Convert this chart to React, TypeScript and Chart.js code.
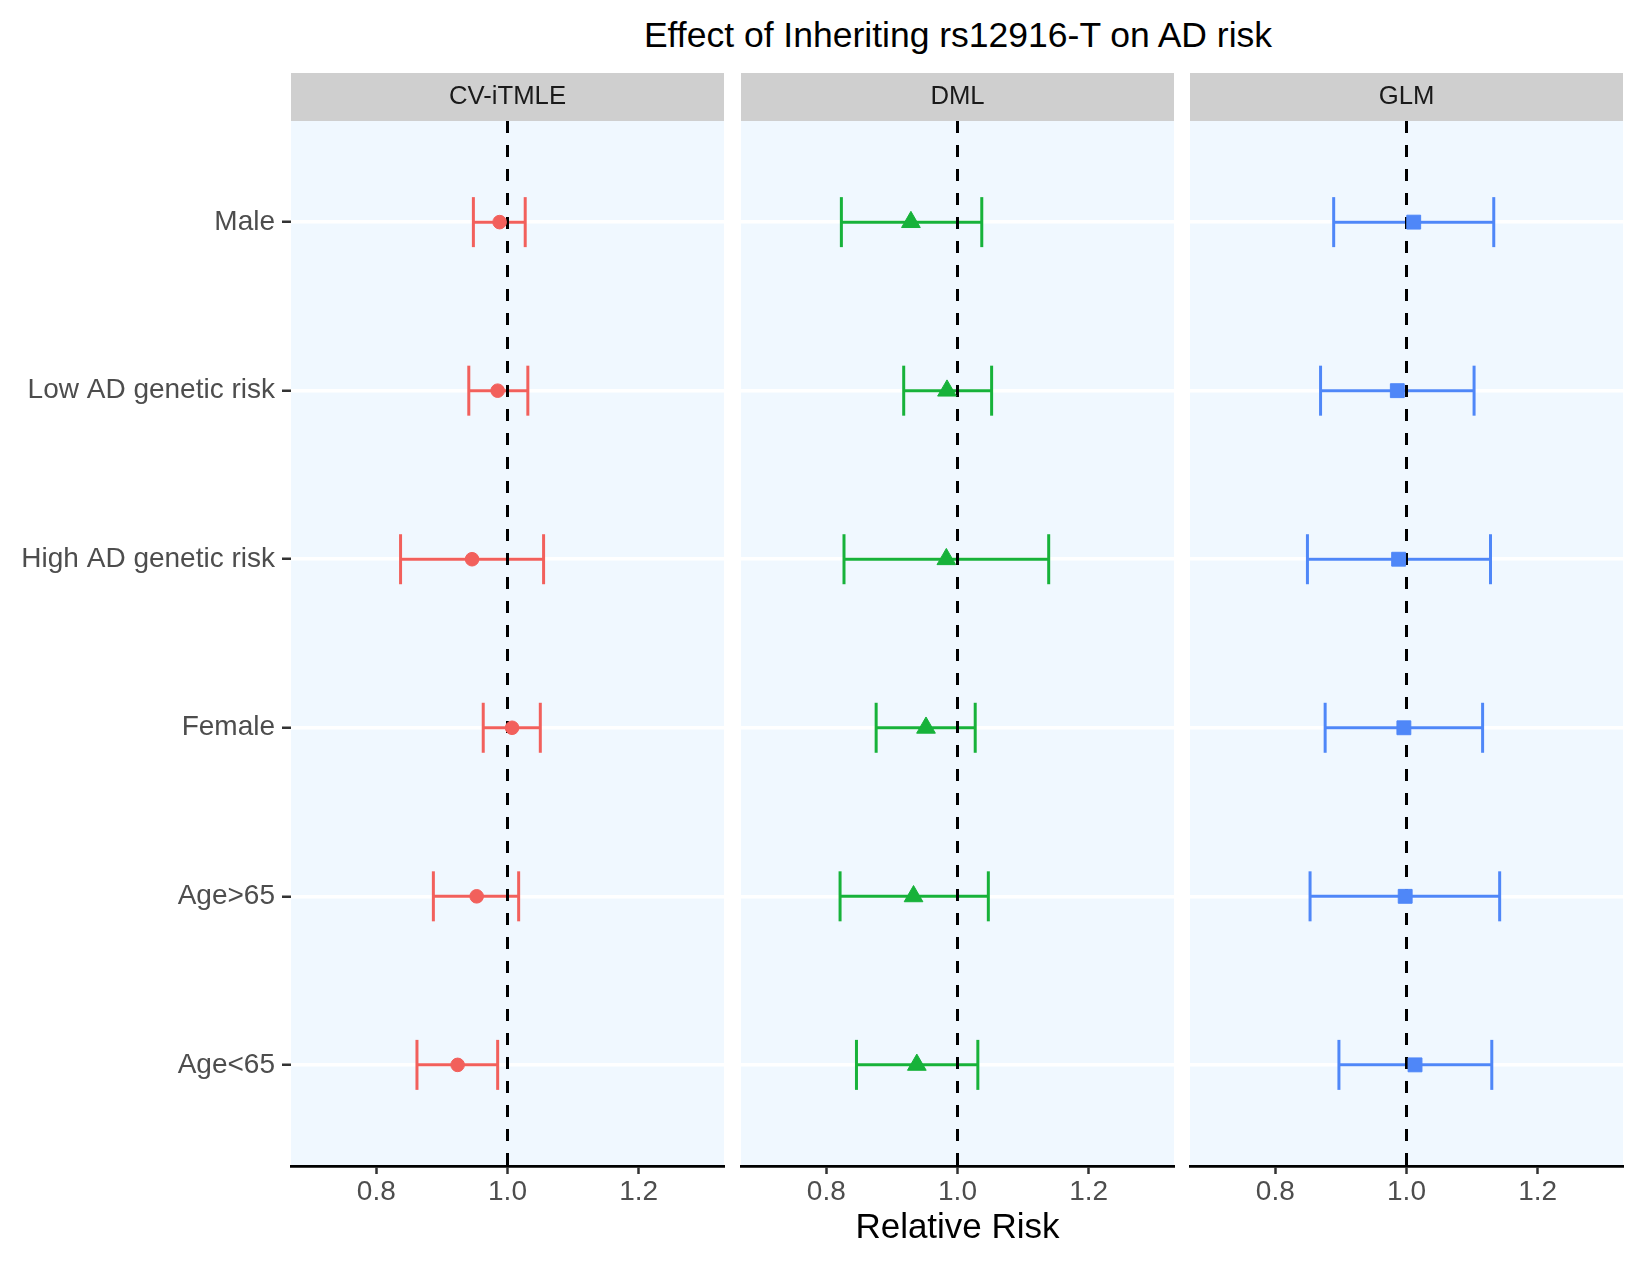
import { useEffect, useRef } from 'react'
import { Chart, registerables } from 'chart.js'

Chart.register(...registerables)

const FONT = "'Liberation Sans', Arial, Helvetica, sans-serif"
Chart.defaults.font.family = FONT

// subgroups, top to bottom
const CATEGORIES = ['Male', 'Low AD genetic risk', 'High AD genetic risk', 'Female', 'Age>65', 'Age<65']
const METHODS = ['CV-iTMLE', 'DML', 'GLM']

// relative risk estimates and 95% CI, one array per method
const CV_EST = [0.988, 0.985, 0.946, 1.007, 0.953, 0.924]
const CV_LO = [0.948, 0.941, 0.837, 0.963, 0.887, 0.862]
const CV_HI = [1.027, 1.031, 1.055, 1.050, 1.017, 0.985]

const DML_EST = [0.929, 0.984, 0.983, 0.952, 0.933, 0.938]
const DML_LO = [0.823, 0.918, 0.827, 0.876, 0.821, 0.846]
const DML_HI = [1.037, 1.052, 1.139, 1.027, 1.047, 1.031]

const GLM_EST = [1.011, 0.986, 0.988, 0.996, 0.998, 1.013]
const GLM_LO = [0.889, 0.869, 0.849, 0.876, 0.853, 0.897]
const GLM_HI = [1.133, 1.103, 1.128, 1.116, 1.142, 1.130]

const X_TICKS = [0.8, 1.0, 1.2]
const X_MIN = 0.67
const X_MAX = 1.33
const REF_VALUE = 1

const Y_MIN = -0.6
const Y_MAX = CATEGORIES.length - 1 + 0.6

// layout (page pixels)
const PAGE_W = 1648
const PAGE_H = 1265
const PANEL_TOP = 121
const STRIP_H = 48
const AXIS_H = 99
const Y_AXIS_W = 291

const PANEL_BG = '#f0f8ff'
const STRIP_BG = '#cfcfcf'
const TEXT_GREY = '#4d4d4d'
const TICK_GREY = '#333333'

type PanelCfg = {
    name: string
    est: number[]
    lo: number[]
    hi: number[]
    color: string
    shape: 'circle' | 'triangle' | 'rect'
    radius: number
    left: number
    width: number
    padLeft: number
    padRight: number
    showY: boolean
    showXTitle: boolean
}

const PANELS: PanelCfg[] = [
    { name: METHODS[0], est: CV_EST, lo: CV_LO, hi: CV_HI, color: '#f2605c', shape: 'circle', radius: 6.8,
      left: 0, width: 733, padLeft: 0, padRight: 9, showY: true, showXTitle: false },
    { name: METHODS[1], est: DML_EST, lo: DML_LO, hi: DML_HI, color: '#17b23a', shape: 'triangle', radius: 10.8,
      left: 733, width: 449, padLeft: 8, padRight: 8, showY: false, showXTitle: true },
    { name: METHODS[2], est: GLM_EST, lo: GLM_LO, hi: GLM_HI, color: '#4f87f8', shape: 'rect', radius: 9.8,
      left: 1182, width: 466, padLeft: 8, padRight: 25, showY: false, showXTitle: false },
]

// background du panneau + bandeau gris avec le nom de la méthode
const panelDecor = {
    id: 'panelDecor',
    beforeDraw(chart: any, _args: any, opts: any) {
        const { ctx, chartArea: a } = chart
        ctx.save()
        ctx.fillStyle = PANEL_BG
        ctx.fillRect(a.left, a.top, a.right - a.left, a.bottom - a.top)
        ctx.fillStyle = STRIP_BG
        ctx.fillRect(a.left, a.top - STRIP_H, a.right - a.left, STRIP_H)
        ctx.fillStyle = '#1a1a1a'
        ctx.font = `25.7px ${FONT}`
        ctx.textAlign = 'center'
        ctx.textBaseline = 'middle'
        ctx.fillText(opts.label, (a.left + a.right) / 2, a.top - STRIP_H / 2)
        ctx.restore()
    },
}

function ForestPanel({ cfg }: { cfg: PanelCfg }) {
    const canvasRef = useRef<HTMLCanvasElement>(null)

    useEffect(() => {
        if (!canvasRef.current) return

        const errorbars = CATEGORIES.map((_, i) => ({
            type: 'line',
            data: [{ x: cfg.lo[i], y: i }, { x: cfg.hi[i], y: i }],
            borderColor: cfg.color,
            borderWidth: 3,
            pointStyle: 'line',
            pointRotation: 90,
            pointRadius: 25,
            pointHoverRadius: 25,
            pointBorderColor: cfg.color,
            pointBorderWidth: 3,
            order: 2,
        }))

        const refLine = {
            type: 'line',
            data: [{ x: REF_VALUE, y: Y_MIN }, { x: REF_VALUE, y: Y_MAX }],
            borderColor: '#000000',
            borderWidth: 3,
            borderDash: [12, 12],
            pointRadius: 0,
            order: 1,
        }

        const points = {
            type: 'line',
            data: cfg.est.map((v, i) => ({ x: v, y: i })),
            showLine: false,
            pointStyle: cfg.shape,
            pointRadius: cfg.radius,
            pointHoverRadius: cfg.radius,
            pointBackgroundColor: cfg.color,
            pointBorderColor: cfg.color,
            pointBorderWidth: 1,
            order: 0,
        }

        const chart = new Chart(canvasRef.current, {
            type: 'line',
            data: { datasets: [points, refLine, ...errorbars] as any },
            options: {
                responsive: false,
                animation: false,
                events: [],
                layout: {
                    autoPadding: false,
                    padding: { top: PANEL_TOP, bottom: 0, left: cfg.padLeft, right: cfg.padRight },
                },
                plugins: {
                    legend: { display: false },
                    tooltip: { enabled: false },
                    title: { display: false },
                    panelDecor: { label: cfg.name },
                } as any,
                scales: {
                    x: {
                        type: 'linear',
                        min: X_MIN,
                        max: X_MAX,
                        afterBuildTicks: (s: any) => { s.ticks = X_TICKS.map(v => ({ value: v })) },
                        afterFit: (s: any) => { s.height = AXIS_H },
                        grid: { drawOnChartArea: false, drawTicks: true, tickLength: 8, tickColor: TICK_GREY, tickWidth: 2.5 },
                        border: { display: true, color: '#000000', width: 2.7 },
                        ticks: {
                            color: TEXT_GREY,
                            font: { size: 28 },
                            padding: 1.5,
                            maxRotation: 0,
                            autoSkip: false,
                            callback: (v: any) => Number(v).toFixed(1),
                        },
                        title: {
                            display: cfg.showXTitle,
                            text: 'Relative Risk',
                            color: '#000000',
                            font: { size: 35 },
                            padding: { top: 0, bottom: 15.7 },
                        },
                    },
                    y: {
                        type: 'linear',
                        reverse: true,
                        min: Y_MIN,
                        max: Y_MAX,
                        afterBuildTicks: (s: any) => { s.ticks = CATEGORIES.map((_, i) => ({ value: i })) },
                        afterFit: (s: any) => { s.width = cfg.showY ? Y_AXIS_W : 0 },
                        grid: { color: '#ffffff', lineWidth: 3.5, drawTicks: cfg.showY, tickLength: 9, tickColor: TICK_GREY, tickWidth: 2.5 },
                        border: { display: false },
                        ticks: {
                            display: cfg.showY,
                            color: TEXT_GREY,
                            font: { size: 28 },
                            padding: 7,
                            autoSkip: false,
                            callback: (v: any) => CATEGORIES[v] ?? '',
                        },
                    },
                },
            } as any,
            plugins: [panelDecor],
        })

        return () => chart.destroy()
    }, [cfg])

    return (
        <canvas
            ref={canvasRef}
            width={cfg.width}
            height={PAGE_H}
            style={{ position: 'absolute', left: cfg.left, top: 0, width: cfg.width, height: PAGE_H }}
        />
    )
}

export default function App() {
    return (
        <div style={{ position: 'absolute', left: 0, top: 0, width: PAGE_W, height: PAGE_H, background: '#ffffff', overflow: 'hidden' }}>
            <div
                style={{
                    position: 'absolute', left: 458, top: 18.3, width: 1000, textAlign: 'center',
                    fontFamily: FONT, fontSize: 35.5, lineHeight: '35.5px', color: '#000000', whiteSpace: 'nowrap',
                }}
            >
                Effect of Inheriting rs12916-T on AD risk
            </div>
            {PANELS.map(p => <ForestPanel key={p.name} cfg={p} />)}
        </div>
    )
}
